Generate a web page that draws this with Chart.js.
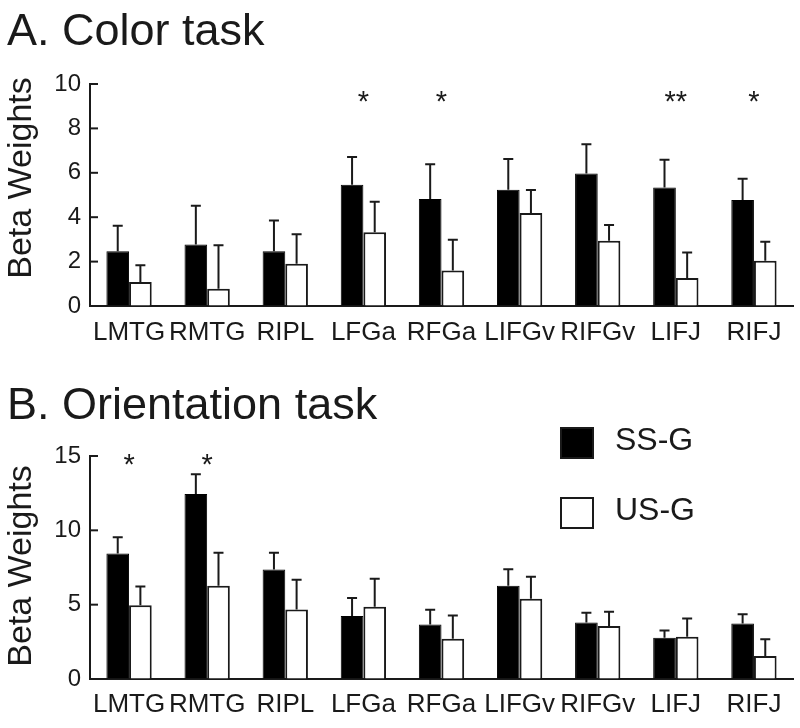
<!DOCTYPE html>
<html>
<head>
<meta charset="utf-8">
<script src="https://cdn.jsdelivr.net/npm/chart.js@4/dist/chart.umd.min.js"></script>
<style>
  html, body { margin: 0; padding: 0; background: #fff; }
  #wrap { position: relative; width: 800px; height: 728px; }
  #boxA { position: absolute; left: 0; top: 0; width: 800px; height: 350px; }
  #boxB { position: absolute; left: 0; top: 350px; width: 800px; height: 378px; }
</style>
</head>
<body>
<div id="wrap">
  <div id="boxA"><canvas id="chartA"></canvas></div>
  <div id="boxB"><canvas id="chartB"></canvas></div>
</div>
<script>
// ---- data ----
const categories = ['LMTG', 'RMTG', 'RIPL', 'LFGa', 'RFGa', 'LIFGv', 'RIFGv', 'LIFJ', 'RIFJ'];
const seriesNames = ['SS-G', 'US-G'];

const colorSS     = [2.47, 2.77, 2.47, 5.46, 4.82, 5.24, 5.97, 5.34, 4.78];
const colorSSErr  = [1.15, 1.75, 1.38, 1.25, 1.56, 1.38, 1.32, 1.25, 0.95];
const colorUS     = [1.08, 0.78, 1.90, 3.32, 1.60, 4.19, 2.94, 1.26, 2.04];
const colorUSErr  = [0.75, 1.96, 1.33, 1.38, 1.38, 1.04, 0.71, 1.15, 0.85];
const colorSig    = ['', '', '', '*', '*', '', '', '**', '*'];
const colorTicks  = [0, 2, 4, 6, 8, 10];

const orientSS    = [8.45, 12.45, 7.36, 4.23, 3.66, 6.27, 3.80, 2.77, 3.73];
const orientSSErr = [1.09, 1.32, 1.14, 1.22, 1.00, 1.11, 0.65, 0.50, 0.63];
const orientUS    = [4.96, 6.27, 4.68, 4.86, 2.70, 5.39, 3.57, 2.84, 1.55];
const orientUSErr = [1.26, 2.23, 2.00, 1.89, 1.57, 1.49, 0.95, 1.23, 1.13];
const orientSig   = ['*', '*', '', '', '', '', '', '', ''];
const orientTicks = [0, 5, 10, 15];

const FONT = "'Liberation Sans', Arial, Helvetica, sans-serif";
const INK = '#1a1a1a';

// ---- plugin: error bars, inward ticks, asterisks, titles, legend ----
const decor = {
  id: 'decor',
  afterDatasetsDraw(chart, args, opts) {
    const ctx = chart.ctx;
    const ys = chart.scales.y, xs = chart.scales.x;
    ctx.save();
    // error bars
    chart.data.datasets.forEach((ds, di) => {
      const meta = chart.getDatasetMeta(di);
      meta.data.forEach((bar, i) => {
        const top = ys.getPixelForValue(ds.data[i] + ds.err[i]);
        ctx.strokeStyle = INK;
        ctx.lineWidth = 2;
        ctx.beginPath();
        ctx.moveTo(bar.x, bar.y);
        ctx.lineTo(bar.x, top);
        ctx.moveTo(bar.x - 5, top);
        ctx.lineTo(bar.x + 5, top);
        ctx.stroke();
      });
    });
    // inward y ticks
    const ax = chart.chartArea.left;
    ctx.strokeStyle = INK;
    ctx.lineWidth = 2;
    ys.ticks.forEach(t => {
      const p = ys.getPixelForValue(t.value);
      ctx.beginPath();
      ctx.moveTo(ax, p);
      ctx.lineTo(ax + 8, p);
      ctx.stroke();
    });
    // significance markers
    ctx.fillStyle = INK;
    ctx.font = '29px ' + FONT;
    ctx.textAlign = 'center';
    ctx.textBaseline = 'alphabetic';
    opts.sig.forEach((s, i) => {
      if (!s) return;
      ctx.fillText(s, xs.getPixelForValue(i), opts.sigY);
    });
    // panel title
    ctx.textAlign = 'left';
    ctx.font = '45px ' + FONT;
    ctx.fillText(opts.title, 7, opts.titleY);
    // y axis title
    ctx.save();
    ctx.translate(22, opts.yTitleY);
    ctx.rotate(-Math.PI / 2);
    ctx.font = '34px ' + FONT;
    ctx.textAlign = 'center';
    ctx.textBaseline = 'middle';
    ctx.fillText('Beta Weights', 0, 0);
    ctx.restore();
    // legend
    if (opts.legend) {
      chart.data.datasets.forEach((ds, di) => {
        const by = opts.legendY[di];
        ctx.fillStyle = ds.backgroundColor;
        ctx.fillRect(561, by, 32, 30);
        ctx.strokeStyle = INK;
        ctx.lineWidth = 2;
        ctx.strokeRect(561, by, 32, 30);
        ctx.fillStyle = INK;
        ctx.font = '32px ' + FONT;
        ctx.textAlign = 'left';
        ctx.textBaseline = 'middle';
        ctx.fillText(ds.label, 615, by + 13);
      });
    }
    ctx.restore();
  }
};

function makeChart(id, ss, ssErr, us, usErr, ticks, stepMax, padTop, xHeight, labelPad, decorOpts) {
  return new Chart(document.getElementById(id), {
    type: 'bar',
    data: {
      labels: categories,
      datasets: [
        { label: seriesNames[0], data: ss, err: ssErr, backgroundColor: '#000000',
          borderColor: '#000000', borderWidth: 1 },
        { label: seriesNames[1], data: us, err: usErr, backgroundColor: '#ffffff',
          borderColor: INK, borderWidth: 2 }
      ]
    },
    options: {
      responsive: true,
      maintainAspectRatio: false,
      animation: false,
      events: [],
      layout: { padding: { left: 0, right: 7, top: padTop, bottom: 0 } },
      datasets: { bar: { categoryPercentage: 0.58, barPercentage: 1.0 } },
      plugins: {
        legend: { display: false },
        tooltip: { enabled: false },
        title: { display: false },
        decor: decorOpts
      },
      scales: {
        x: {
          grid: { color: 'rgba(0,0,0,0)', drawTicks: false, drawOnChartArea: false },
          border: { display: true, color: INK, width: 2 },
          ticks: { color: INK, font: { family: FONT, size: 26 }, padding: labelPad, maxRotation: 0, autoSkip: false },
          afterFit(s) { s.height = xHeight; }
        },
        y: {
          min: 0, max: stepMax,
          afterBuildTicks(s) { s.ticks = ticks.map(v => ({ value: v })); },
          grid: { color: 'rgba(0,0,0,0)', drawTicks: false, drawOnChartArea: false },
          border: { display: true, color: INK, width: 2 },
          ticks: { color: INK, font: { family: FONT, size: 24 }, padding: 9 },
          afterFit(s) { s.width = 90; }
        }
      }
    },
    plugins: [decor]
  });
}

makeChart('chartA', colorSS, colorSSErr, colorUS, colorUSErr, colorTicks, 10, 84, 44, 11,
  { sig: colorSig, sigY: 111, title: 'A. Color task', titleY: 45, yTitleY: 178, legend: false });
makeChart('chartB', orientSS, orientSSErr, orientUS, orientUSErr, orientTicks, 15, 106, 49, 10,
  { sig: orientSig, sigY: 124, title: 'B. Orientation task', titleY: 69, yTitleY: 216,
    legend: true, legendY: [78, 148] });
</script>
</body>
</html>
